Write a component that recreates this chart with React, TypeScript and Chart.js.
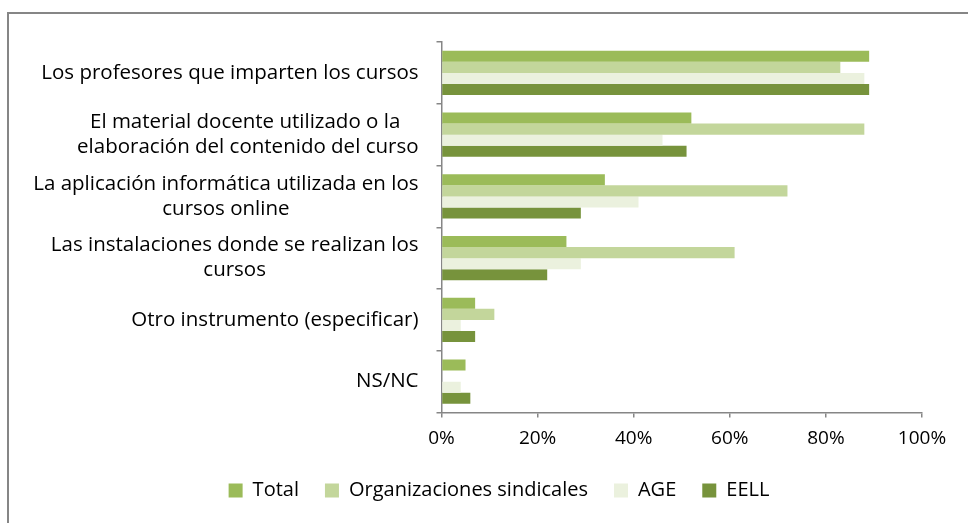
import React, { useEffect, useRef } from "react";
import { Chart, registerables } from "chart.js";

Chart.register(...registerables);

const categoryLines: string[][] = [
  ["Los profesores que imparten los cursos"],
  ["El material docente utilizado o la ", "elaboración del contenido del curso"],
  ["La aplicación informática utilizada en los", "cursos online"],
  ["Las instalaciones donde se realizan los", "cursos"],
  ["Otro instrumento (especificar)"],
  ["NS/NC"],
];
const seriesNames = ["Total", "Organizaciones sindicales", "AGE", "EELL"];
const totalValues = [89, 52, 34, 26, 7, 5];
const sindicalesValues = [83, 88, 72, 61, 11, 0];
const ageValues = [88, 46, 41, 29, 4, 4];
const eellValues = [89, 51, 29, 22, 7, 6];
const seriesColors = ["#9BBB59", "#C3D69B", "#EBF1DE", "#77933C"];
const xMin = 0;
const xMax = 100;
const xStep = 20;

const FONT = "'Open Sans', Lato, sans-serif";
const LABEL_SIZE = 20.5;
const LINE_H = 25;
const AXIS_GRAY = "#868686";

const yLabelPlugin = {
  id: "yLabelsCentered",
  afterDraw(chart: any) {
    const ctx = chart.ctx;
    const yScale = chart.scales.y;
    ctx.save();
    ctx.font = `${LABEL_SIZE}px ${FONT}`;
    ctx.fillStyle = "#000000";
    ctx.textBaseline = "middle";
    ctx.textAlign = "center";
    const rightEdge = chart.chartArea.left - 23;
    categoryLines.forEach((lines, i) => {
      const cy = yScale.getPixelForValue(i);
      const widths = lines.map((l) => ctx.measureText(l).width);
      const blockW = Math.max(...widths);
      const cx = rightEdge - blockW / 2;
      const n = lines.length;
      lines.forEach((l, j) => {
        ctx.fillText(l, cx, cy + (j - (n - 1) / 2) * LINE_H);
      });
    });
    ctx.restore();
  },
};

export default function App() {
  const canvasRef = useRef<HTMLCanvasElement | null>(null);

  useEffect(() => {
    if (!canvasRef.current) return;
    const valuesList = [totalValues, sindicalesValues, ageValues, eellValues];
    const chart = new Chart(canvasRef.current, {
      type: "bar",
      data: {
        labels: categoryLines.map((l) => l.join(" ").trim()),
        datasets: seriesNames.map((name, i) => ({
          label: name,
          data: valuesList[i],
          backgroundColor: seriesColors[i],
          borderWidth: 0,
          categoryPercentage: 0.72,
          barPercentage: 1.0,
        })),
      },
      options: {
        indexAxis: "y",
        animation: false,
        responsive: false,
        maintainAspectRatio: false,
        layout: { padding: { left: 30, right: 0, top: 42, bottom: 12.5 } },
        plugins: {
          tooltip: { enabled: false },
          legend: {
            position: "bottom",
            labels: {
              font: { family: FONT, size: 20 },
              color: "#000000",
              boxWidth: 14,
              boxHeight: 14,
              padding: 26,
            },
          },
        },
        scales: {
          x: {
            min: xMin,
            max: xMax,
            ticks: {
              stepSize: xStep,
              callback: (v: any) => `${v}%`,
              font: { family: FONT, size: 19 },
              color: "#000000",
              padding: 10,
              maxRotation: 0,
            },
            grid: {
              drawOnChartArea: false,
              drawTicks: true,
              tickLength: 5,
              color: AXIS_GRAY,
              lineWidth: 1.5,
            },
            border: { display: true, color: AXIS_GRAY, width: 1.5 },
            afterFit: (scale: any) => {
              scale.height = 42;
              scale.paddingRight = 46;
            },
          },
          y: {
            ticks: { display: false },
            grid: {
              drawOnChartArea: false,
              drawTicks: true,
              tickLength: 5,
              color: AXIS_GRAY,
              lineWidth: 1.5,
              offset: true,
            },
            border: { display: true, color: AXIS_GRAY, width: 1.5 },
            afterFit: (scale: any) => {
              scale.width = 441.5 - 30;
            },
          },
        },
      },
      plugins: [yLabelPlugin],
    });
    return () => chart.destroy();
  }, []);

  return (
    <div
      style={{
        position: "fixed",
        left: 0,
        top: 0,
        width: 968,
        height: 523,
        overflow: "hidden",
        background: "#ffffff",
      }}
    >
      <div
        style={{
          position: "absolute",
          left: 7,
          top: 12,
          width: 1100,
          height: 700,
          border: `2px solid ${AXIS_GRAY}`,
          boxSizing: "border-box",
        }}
      />
      <canvas
        ref={canvasRef}
        width={968}
        height={523}
        style={{ position: "absolute", left: 0, top: 0, width: 968, height: 523 }}
      />
    </div>
  );
}
